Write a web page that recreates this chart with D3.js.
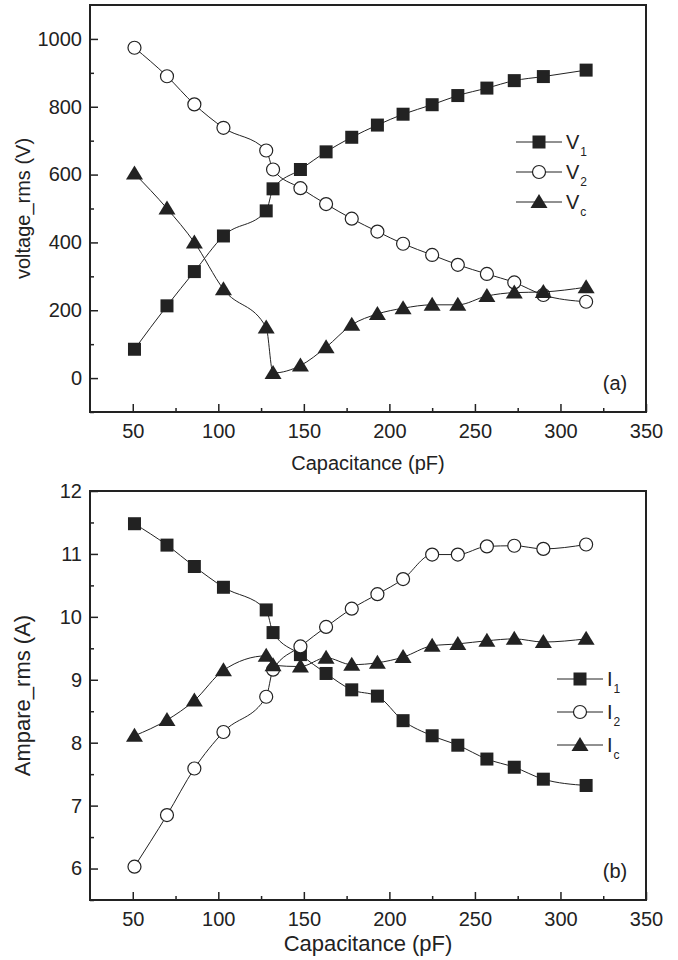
<!DOCTYPE html>
<html>
<head>
<meta charset="utf-8">
<script src="https://cdn.jsdelivr.net/npm/d3@7"></script>
<style>
  body { margin: 0; background: #fff; }
  text { font-family: "Liberation Sans", Arial, sans-serif; fill: #222; }
</style>
</head>
<body>
<div id="chart"></div>
<script>
// shared x values (pF)
const capacitance = [51, 70, 86, 103, 128, 132, 148, 163, 178, 193, 208, 225, 240, 257, 273, 290, 315];

// panel (a) voltages
const v1 = [85, 213, 314, 419, 493, 558, 615, 667, 710, 746, 778, 806, 833, 855, 877, 889, 908];
const v2 = [974, 890, 807, 738, 671, 615, 560, 513, 470, 432, 396, 363, 334, 307, 282, 245, 225];
const vc = [603, 500, 400, 262, 149, 15, 37, 91, 157, 189, 206, 216, 216, 242, 252, 254, 268];

// panel (b) currents
const i1 = [11.48, 11.14, 10.80, 10.47, 10.11, 9.75, 9.40, 9.10, 8.84, 8.74, 8.35, 8.11, 7.96, 7.74, 7.61, 7.42, 7.32];
const i2 = [6.03, 6.85, 7.59, 8.17, 8.73, 9.16, 9.53, 9.84, 10.13, 10.36, 10.60, 10.99, 10.99, 11.12, 11.13, 11.08, 11.15];
const ic = [8.11, 8.36, 8.67, 9.15, 9.38, 9.23, 9.21, 9.35, 9.24, 9.27, 9.36, 9.54, 9.57, 9.62, 9.65, 9.60, 9.65];

// ticks
const xTicks = [50, 100, 150, 200, 250, 300, 350];
const xMinor = [75, 125, 175, 225, 275, 325];
const voltTicks = [0, 200, 400, 600, 800, 1000];
const voltMinor = [-100, 100, 300, 500, 700, 900];
const ampTicks = [6, 7, 8, 9, 10, 11, 12];
const ampMinor = [5.5, 6.5, 7.5, 8.5, 9.5, 10.5, 11.5];

const svg = d3.select("#chart")
  .append("svg")
  .attr("width", 678)
  .attr("height", 960);

const ink = "#222";
const fmt = d3.format("d");

function marker(g, shape, x, y) {
  if (shape === "square") {
    g.append("rect")
      .attr("x", x - 6.5).attr("y", y - 6.5)
      .attr("width", 13).attr("height", 13)
      .attr("fill", ink);
  } else if (shape === "circle") {
    g.append("circle")
      .attr("cx", x).attr("cy", y).attr("r", 6.5)
      .attr("fill", "#fff").attr("stroke", ink).attr("stroke-width", 1.2);
  } else {
    g.append("path")
      .attr("d", `M${x},${y - 8}L${x + 8.5},${y + 6}L${x - 8.5},${y + 6}Z`)
      .attr("fill", ink);
  }
}

function drawPanel(opt) {
  const left = 90, right = 646;
  const x = d3.scaleLinear().domain([25, 350]).range([left, right]);
  const y = d3.scaleLinear().domain(opt.yDomain).range([opt.bottom, opt.top]);

  const g = svg.append("g");

  // x axis major + minor (ticks inward)
  g.append("g")
    .attr("transform", `translate(0, ${opt.bottom})`)
    .call(d3.axisBottom(x).tickValues(xTicks).tickFormat(fmt).tickSizeInner(-8).tickSizeOuter(0).tickPadding(12))
    .call(a => a.select(".domain").remove())
    .call(a => a.selectAll("line").attr("stroke", ink).attr("stroke-width", 1.5))
    .call(a => a.selectAll("text").style("font-size", "20px").attr("fill", ink));

  g.append("g")
    .attr("transform", `translate(0, ${opt.bottom})`)
    .call(d3.axisBottom(x).tickValues(xMinor).tickSizeInner(-4).tickSizeOuter(0).tickFormat(""))
    .call(a => a.select(".domain").remove())
    .call(a => a.selectAll("line").attr("stroke", ink).attr("stroke-width", 1.5));

  // y axis
  g.append("g")
    .attr("transform", `translate(${left}, 0)`)
    .call(d3.axisLeft(y).tickValues(opt.yTicks).tickFormat(fmt).tickSizeInner(-8).tickSizeOuter(0).tickPadding(8))
    .call(a => a.select(".domain").remove())
    .call(a => a.selectAll("line").attr("stroke", ink).attr("stroke-width", 1.5))
    .call(a => a.selectAll("text").style("font-size", "20px").attr("fill", ink));

  g.append("g")
    .attr("transform", `translate(${left}, 0)`)
    .call(d3.axisLeft(y).tickValues(opt.yMinor).tickSizeInner(-4).tickSizeOuter(0).tickFormat(""))
    .call(a => a.select(".domain").remove())
    .call(a => a.selectAll("line").attr("stroke", ink).attr("stroke-width", 1.5));

  // frame
  g.append("rect")
    .attr("x", left).attr("y", opt.top)
    .attr("width", right - left).attr("height", opt.bottom - opt.top)
    .attr("fill", "none").attr("stroke", ink).attr("stroke-width", 2);

  const line = d3.line()
    .x(d => x(d[0]))
    .y(d => y(d[1]))
    .curve(d3.curveMonotoneX);

  opt.series.forEach(s => {
    const pts = capacitance.map((c, i) => [c, s.values[i]]);
    g.append("path")
      .attr("d", line(pts))
      .attr("fill", "none")
      .attr("stroke", ink)
      .attr("stroke-width", 1);
    pts.forEach(p => marker(g, s.shape, x(p[0]), y(p[1])));
  });

  // legend
  opt.series.forEach((s, i) => {
    const ly = opt.legendY + i * opt.legendStep;
    const lx = opt.legendX;
    g.append("line")
      .attr("x1", lx).attr("x2", lx + 46)
      .attr("y1", ly).attr("y2", ly)
      .attr("stroke", ink).attr("stroke-width", 1);
    marker(g, s.shape, lx + 23, ly);
    const t = g.append("text")
      .attr("x", lx + 50).attr("y", ly + 7)
      .style("font-size", "20px")
      .text(opt.letter);
    t.append("tspan")
      .attr("dy", 7)
      .attr("dx", 1)
      .style("font-size", "12px")
      .text(s.sub);
  });

  // panel tag
  g.append("text")
    .attr("x", 615).attr("y", opt.bottom - 22)
    .attr("text-anchor", "middle")
    .style("font-size", "20px")
    .text(opt.tag);

  // axis titles
  g.append("text")
    .attr("x", (left + right) / 2)
    .attr("y", opt.bottom + opt.xTitleOffset)
    .attr("text-anchor", "middle")
    .style("font-size", opt.titleSize)
    .text("Capacitance (pF)");

  g.append("text")
    .attr("transform", "rotate(-90)")
    .attr("x", -(opt.top + opt.bottom) / 2)
    .attr("y", 30)
    .attr("text-anchor", "middle")
    .style("font-size", opt.titleSize)
    .text(opt.yTitle);
}

drawPanel({
  top: 5, bottom: 412,
  yDomain: [-100, 1100], yTicks: voltTicks, yMinor: voltMinor,
  series: [
    { values: v1, shape: "square", sub: "1" },
    { values: v2, shape: "circle", sub: "2" },
    { values: vc, shape: "triangle", sub: "c" }
  ],
  letter: "V",
  legendX: 516, legendY: 142, legendStep: 30,
  tag: "(a)",
  xTitleOffset: 58,
  titleSize: "20px",
  yTitle: "voltage_rms (V)"
});

drawPanel({
  top: 491, bottom: 900,
  yDomain: [5.5, 12], yTicks: ampTicks, yMinor: ampMinor,
  series: [
    { values: i1, shape: "square", sub: "1" },
    { values: i2, shape: "circle", sub: "2" },
    { values: ic, shape: "triangle", sub: "c" }
  ],
  letter: "I",
  legendX: 557, legendY: 679, legendStep: 33,
  tag: "(b)",
  xTitleOffset: 51,
  titleSize: "22px",
  yTitle: "Ampare_rms (A)"
});
</script>
</body>
</html>
